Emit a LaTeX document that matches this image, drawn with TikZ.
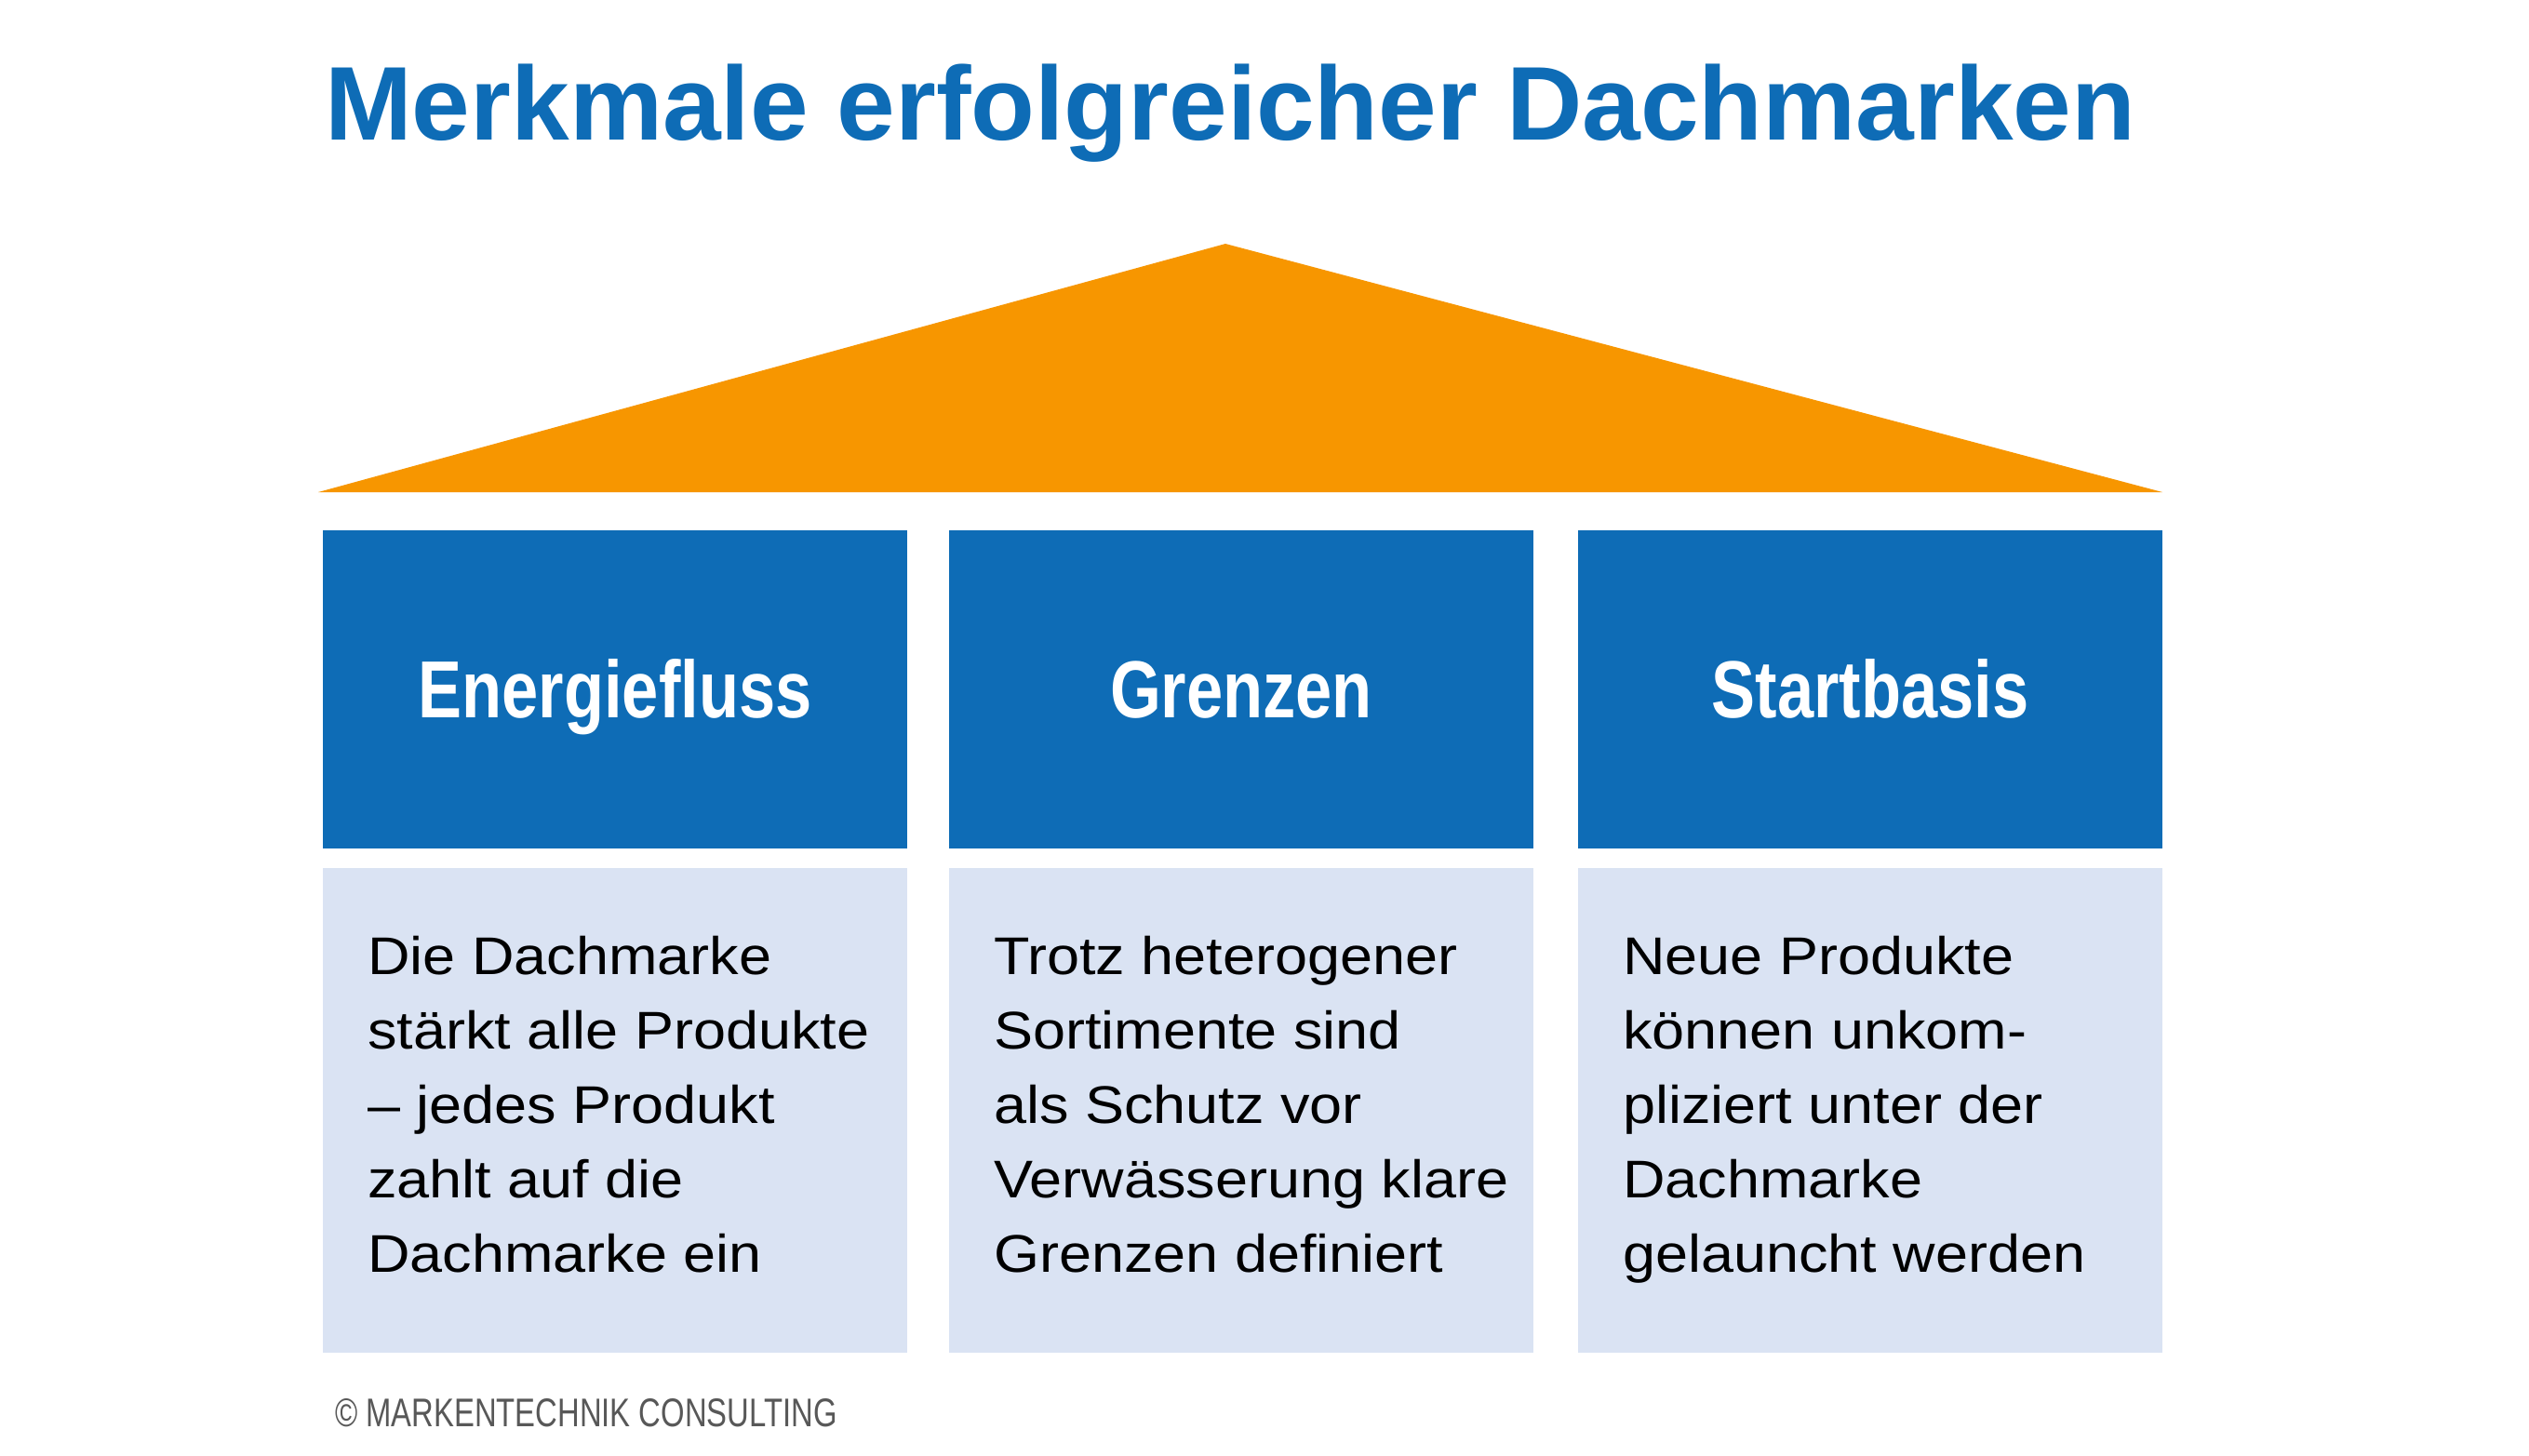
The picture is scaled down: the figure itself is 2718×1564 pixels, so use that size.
\documentclass[tikz,border=0pt]{standalone}
\usepackage{fontspec}
\setmainfont{Liberation Sans}
\newfontfamily\titlefont{Liberation Sans Bold}
\newfontfamily\headfont[FakeStretch=0.81]{Liberation Sans Bold}
\newfontfamily\bodyfont[FakeStretch=1.105]{Liberation Sans}
\newfontfamily\copyfont[FakeStretch=0.763]{Liberation Sans}
\definecolor{dmblue}{RGB}{14,108,182}
\definecolor{dmorange}{RGB}{247,150,0}
\definecolor{dmlight}{RGB}{218,227,243}
\definecolor{dmgray}{RGB}{88,88,88}
\begin{document}
\begin{tikzpicture}[x=1pt,y=-1pt,
  headbox/.style={fill=dmblue, draw=none, anchor=north west, minimum width=628pt, minimum height=342pt, inner sep=0pt, outer sep=0pt},
  bodybox/.style={fill=dmlight, draw=none, anchor=north west, minimum width=628pt, minimum height=521pt, inner sep=0pt, outer sep=0pt},
  headtext/.style={text=white, font=\headfont\fontsize{87}{90}\selectfont, anchor=base, inner sep=0pt},
  bodytext/.style={text=black, font=\bodyfont\fontsize{57}{80}\selectfont, anchor=north west, align=left, inner sep=0pt},
]
\useasboundingbox (0,0) rectangle (2718,1564);
\fill[white] (0,0) rectangle (2718,1564);

\node[anchor=base west, inner sep=0pt, text=dmblue, font=\titlefont\fontsize{112.6}{120}\selectfont] (title) at (349,150) {Merkmale erfolgreicher Dachmarken};

\fill[dmorange] (342,529) -- (1317,262) -- (2324,529) -- cycle;

\node[headbox] (h1) at (347,570) {};
\node[headbox] (h2) at (1020,570) {};
\node[headbox] (h3) at (1696,570) {};

\node[headtext] (t1) at (661,771) {Energiefluss};
\node[headtext] (t2) at (1334,771) {Grenzen};
\node[headtext] (t3) at (2010,771) {Startbasis};

\node[bodybox] (b1) at (347,933) {};
\node[bodybox] (b2) at (1020,933) {};
\node[bodybox] (b3) at (1696,933) {};

\node[bodytext] (d1) at (395,987) {\rule{0pt}{60pt}Die Dachmarke\\stärkt alle Produkte\\– jedes Produkt\\zahlt auf die\\Dachmarke ein};
\node[bodytext] (d2) at (1068,987) {\rule{0pt}{60pt}Trotz heterogener\\Sortimente sind\\als Schutz vor\\Verwässerung klare\\Grenzen definiert};
\node[bodytext] (d3) at (1744,987) {\rule{0pt}{60pt}Neue Produkte\\können unkom-\\pliziert unter der\\Dachmarke\\gelauncht werden};

\node[anchor=base west, inner sep=0pt, text=dmgray, font=\copyfont\fontsize{43}{50}\selectfont] (copy) at (360,1533) {© MARKENTECHNIK CONSULTING};
\end{tikzpicture}
\end{document}
